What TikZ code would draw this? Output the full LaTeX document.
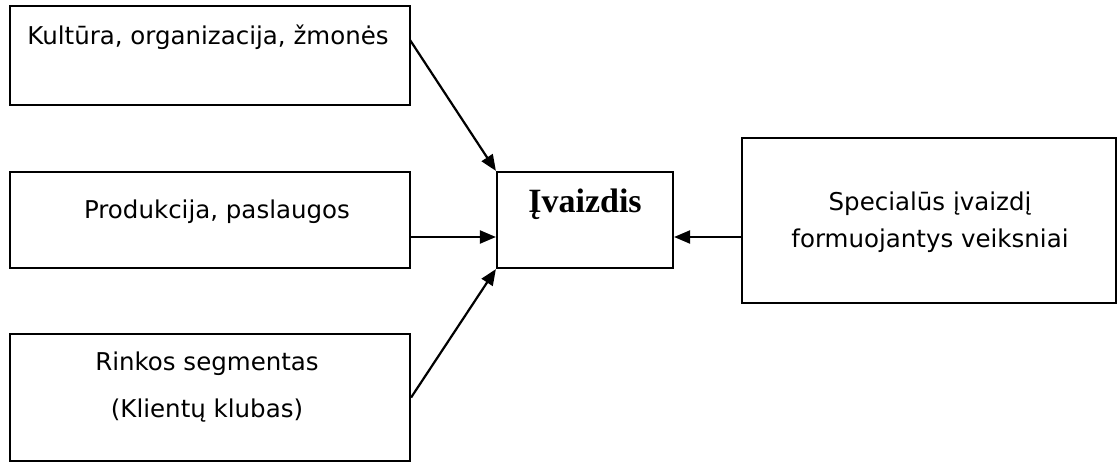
\documentclass[tikz,border=0pt]{standalone}
\usepackage{fontspec}
\setmainfont{DejaVu Sans}
\newfontfamily\titlefont{Liberation Serif}
\usetikzlibrary{calc}
\usetikzlibrary{positioning}
\usetikzlibrary{arrows.meta}

\begin{document}
\begin{tikzpicture}[%
  >={Triangle[length=16pt,width=13pt]},
  x=1pt, y=-1pt,
  box/.style={draw, line width=2.2pt, inner sep=0pt},
  txt/.style={inner sep=0pt, font=\fontsize{24.5}{36}\selectfont},
  link/.style={->, line width=2.2pt},
]

  \useasboundingbox (0,0) rectangle (1118,465);

  \node[box, minimum width=400, minimum height=99] (kult) at (210,55.5) {};
  \node[box, minimum width=400, minimum height=96] (prod) at (210,220) {};
  \node[box, minimum width=400, minimum height=127] (rink) at (210,397.5) {};
  \node[box, minimum width=176, minimum height=96] (img) at (585,220) {};
  \node[box, minimum width=374, minimum height=165] (spec) at (929,220.5) {};

  \node[txt, anchor=base] (kultT) at (208,45) {Kultūra, organizacija, žmonės};
  \node[txt, anchor=base] (prodT) at (217,218) {Produkcija, paslaugos};
  \node[txt, anchor=base, align=center, font=\fontsize{24.5}{47}\selectfont]
    (rinkT) at (207,417) {Rinkos segmentas\\(Klientų klubas)};
  \node[txt, anchor=base, align=center] (specT) at (930,247)
    {Specialūs įvaizdį\\formuojantys veiksniai};
  \node[anchor=base, inner sep=0pt,
    font=\titlefont\bfseries\fontsize{34}{40}\selectfont] (imgT) at (585,212) {Įvaizdis};

  \coordinate (k1) at (410,40);
  \coordinate (mid) at (0,237);

  \draw[link] (k1) -- (img.north west);
  \draw[link] (prod.east |- mid) -- (img.west |- mid);
  \draw[link] (rink.east) -- (img.south west);
  \draw[link] (spec.west |- mid) -- (img.east |- mid);

\end{tikzpicture}
\end{document}
